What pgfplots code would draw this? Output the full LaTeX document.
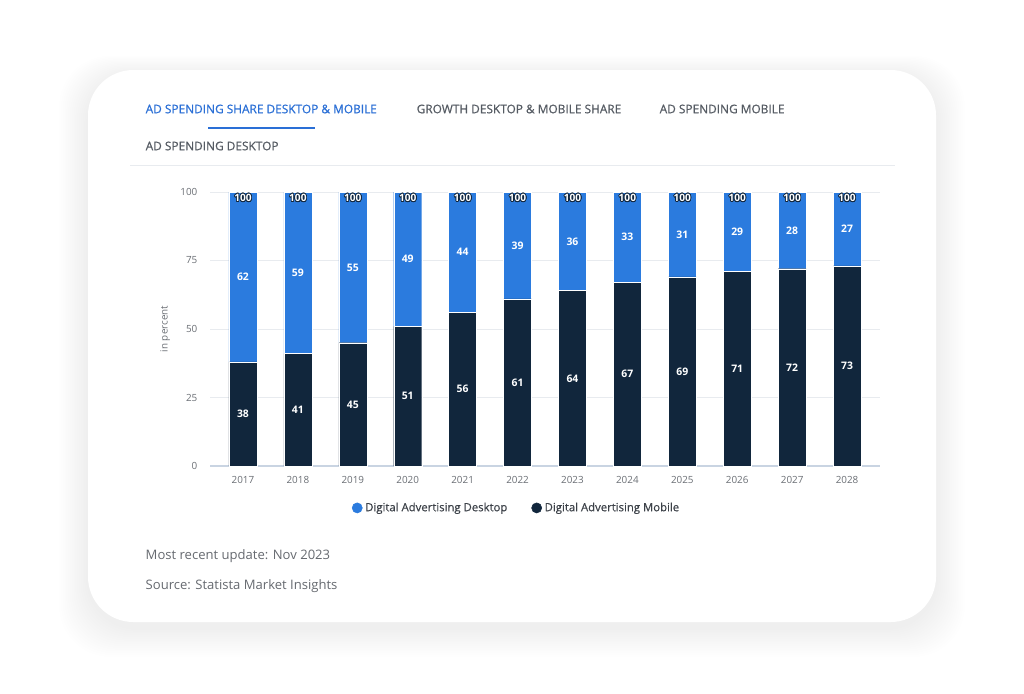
\documentclass[border=0pt]{standalone}
\usepackage{pgfplots}
\pgfplotsset{compat=1.18}
\usepackage{pgfplotstable}
\usepackage{fontspec}
\setmainfont{Open Sans}
\newfontfamily\semib[FakeBold=0.6]{Open Sans}
\newfontfamily\legf[FakeBold=0.3]{Open Sans}
\usepackage{contour}
\contourlength{0.55pt}
\definecolor{desk}{HTML}{2B7BDE}
\definecolor{mob}{HTML}{11263C}
\definecolor{tabblue}{HTML}{2A6FD6}
\definecolor{tabgray}{HTML}{555B63}
\definecolor{legc}{HTML}{3C4148}
\definecolor{tickgray}{HTML}{6B6F75}
\definecolor{gridc}{HTML}{E8EBEF}
\definecolor{axc}{HTML}{C9D4E2}
\definecolor{foot}{HTML}{666A70}
\pgfplotstableread{
x mob desk
0 38 62
1 41 59
2 45 55
3 51 49
4 56 44
5 61 39
6 64 36
7 67 33
8 69 31
9 71 29
10 72 28
11 73 27
}\data
\pgfplotstableread{
x y lab
0 19 38
1 20.5 41
2 22.5 45
3 25.5 51
4 28 56
5 30.5 61
6 32 64
7 33.5 67
8 34.5 69
9 35.5 71
10 36 72
11 36.5 73
0 69 62
1 70.5 59
2 72.5 55
3 75.5 49
4 78 44
5 80.5 39
6 82 36
7 83.5 33
8 84.5 31
9 85.5 29
10 86 28
11 86.5 27
}\labels
\pgfplotstableread{
x y lab
0 97.7 100
1 97.7 100
2 97.7 100
3 97.7 100
4 97.7 100
5 97.7 100
6 97.7 100
7 97.7 100
8 97.7 100
9 97.7 100
10 97.7 100
11 97.7 100
}\tops
\begin{document}
\begin{tikzpicture}[x=0.75pt,y=-0.75pt]
% background and card
\fill[white] (0,0) rectangle (1024,693);
\foreach \i in {1,...,16}{
  \fill[black,opacity=0.005,rounded corners=38pt] ({88-1.8*\i},{70-1.2*\i+5}) rectangle ({936+1.8*\i},{622+1.8*\i+6});
}
\fill[white,rounded corners=34pt] (88,70) rectangle (936,622);
% tabs
\node[anchor=west,text=tabblue,font=\semib\fontsize{8.9}{11}\selectfont] at (141,109) {AD SPENDING SHARE DESKTOP \& MOBILE};
\node[anchor=west,text=tabgray,font=\semib\fontsize{8.9}{11}\selectfont] at (412,109) {GROWTH DESKTOP \& MOBILE SHARE};
\node[anchor=west,text=tabgray,font=\semib\fontsize{8.9}{11}\selectfont] at (655,109) {AD SPENDING MOBILE};
\node[anchor=west,text=tabgray,font=\semib\fontsize{8.9}{11}\selectfont] at (141,146) {AD SPENDING DESKTOP};
\draw[tabblue,line width=2.2pt] (208,128) -- (315,128);
\draw[gridc,line width=0.6pt] (130,165) -- (895,165);
% footer
\node[anchor=west,text=foot,font=\fontsize{9.8}{12}\selectfont] at (141,556) {Most recent update: Nov 2023};
\node[anchor=west,text=foot,font=\fontsize{9.8}{12}\selectfont] at (141,586) {Source: Statista Market Insights};
\begin{axis}[
  at={(157.5pt,-349.5pt)}, anchor=south west,
  scale only axis, width=502.5pt, height=205.5pt,
  xmin=-0.6, xmax=11.6, ymin=0, ymax=100,
  ybar stacked, bar width=21pt,
  xtick=data, xticklabels={2017,2018,2019,2020,2021,2022,2023,2024,2025,2026,2027,2028},
  ytick={0,25,50,75,100},
  major tick length=0pt,
  axis x line*=bottom, axis y line*=left,
  x axis line style={draw=axc,line width=0.8pt},
  y axis line style={draw=none},
  ymajorgrids, grid style={draw=gridc,line width=0.6pt},
  tick label style={text=tickgray,font=\fontsize{7.4}{9}\selectfont},
  /pgf/number format/assume math mode=true,
  yticklabel style={xshift=-6pt},
  xticklabel style={yshift=-4.5pt},
  ylabel={in percent},
  ylabel style={at={(axis description cs:-0.067,0.5)},anchor=center,text=tickgray,font=\fontsize{7.4}{9}\selectfont},
  legend columns=2,
  legend style={draw=none,fill=none,at={(0.458,-0.153)},anchor=center,
    font=\legf\fontsize{8.5}{10}\selectfont,text=legc,
    /tikz/every even column/.append style={column sep=16pt}},
]
\addplot[fill=mob,draw=white,line width=0.3pt,forget plot] table[x=x,y=mob] {\data};
\addplot[fill=desk,draw=white,line width=0.3pt,forget plot] table[x=x,y=desk] {\data};
\addlegendimage{legend image code/.code={\fill[desk] (0.12cm,0) circle (3.8pt);}}
\addlegendentry{Digital Advertising Desktop}
\addlegendimage{legend image code/.code={\fill[mob] (0.12cm,0) circle (3.8pt);}}
\addlegendentry{Digital Advertising Mobile}
\end{axis}
\begin{axis}[
  at={(157.5pt,-349.5pt)}, anchor=south west,
  scale only axis, width=502.5pt, height=205.5pt,
  xmin=-0.6, xmax=11.6, ymin=0, ymax=100,
  hide axis, clip=false,
]
\addplot[only marks,mark=none,nodes near coords,point meta=explicit symbolic,
  every node near coord/.style={anchor=center,text=white,font=\bfseries\fontsize{7.8}{9}\selectfont}]
  table[x=x,y=y,meta=lab] {\labels};
\addplot[only marks,mark=none,nodes near coords={\contour{mob}{\pgfplotspointmeta}},point meta=explicit symbolic,
  every node near coord/.style={anchor=center,text=white,font=\bfseries\fontsize{7.6}{9}\selectfont}]
  table[x=x,y=y,meta=lab] {\tops};
\end{axis}
\end{tikzpicture}
\end{document}
